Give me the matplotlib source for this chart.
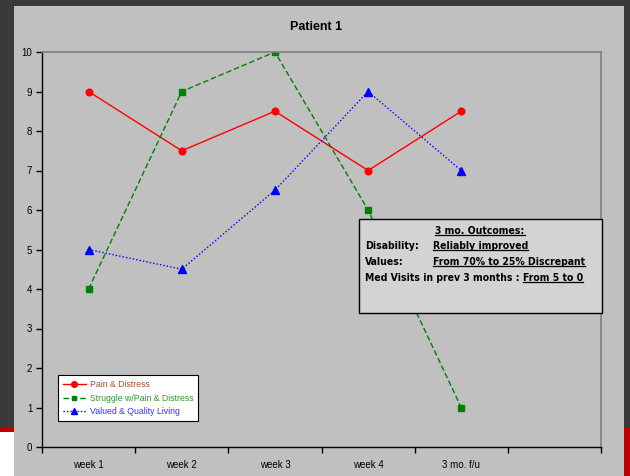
import matplotlib
matplotlib.use("Agg")
import matplotlib.pyplot as plt
from matplotlib.patches import Rectangle
from matplotlib.lines import Line2D

# chart data
categories = ["week 1", "week 2", "week 3", "week 4", "3 mo. f/u"]
pain = [9, 7.5, 8.5, 7, 8.5]
struggle = [4, 9, 10, 6, 1]
valued = [5, 4.5, 6.5, 9, 7]
series_names = ["Pain & Distress", "Struggle w/Pain & Distress", "Valued & Quality Living"]

W, H = 630, 476
plt.rcParams['font.family'] = ['Liberation Sans', 'DejaVu Sans']

fig = plt.figure(figsize=(W / 100, H / 100), dpi=100, facecolor="white")

def px_rect(x0, y0, x1, y1, color, z=-10, **kw):
    # rectangle given in pixel coords measured from the top-left corner
    r = Rectangle((x0 / W, 1 - y1 / H), (x1 - x0) / W, (y1 - y0) / H,
                  transform=fig.transFigure, facecolor=color, zorder=z, **kw)
    fig.patches.append(r)
    return r

# frame around the chart
px_rect(0, 0, W, 428, "#3a3a3a")
px_rect(0, 428, 14, 432, "#c00000")
px_rect(624, 428, W, H, "#c00000")
px_rect(14, 6, 624, H, "#c0c0c0", z=-9)

ax = fig.add_axes([42 / W, 1 - 447 / H, (601 - 42) / W, (447 - 52) / H])
ax.set_facecolor("#c0c0c0")

xs = [i + 0.5 for i in range(len(categories))]
ax.plot(xs, pain, color="red", lw=1, ls="-", marker="o", ms=4.8, label=series_names[0])
ax.plot(xs, struggle, color="#008000", lw=1, ls=(0, (4, 2)), marker="s", ms=4.2, label=series_names[1])
ax.plot(xs, valued, color="blue", lw=1, ls=(0, (1, 1.5)), marker="^", ms=5.2, label=series_names[2])

ax.set_xlim(0, 6)
ax.set_ylim(0, 10)
ax.set_yticks(range(0, 11))
ax.tick_params(axis="y", direction="out", length=4, width=1, labelsize=7, pad=3, colors="black")
ax.set_xticks(range(0, 7))
ax.set_xticklabels([])
ax.set_xticks(xs, minor=True)
ax.set_xticklabels(categories, minor=True)
ax.tick_params(axis="x", which="major", direction="out", length=4, width=1)
ax.tick_params(axis="x", which="minor", length=0, labelsize=7, pad=9)

for s in ["left", "bottom"]:
    ax.spines[s].set_color("black")
    ax.spines[s].set_linewidth(1)
for s in ["top", "right"]:
    ax.spines[s].set_color("#808080")
    ax.spines[s].set_linewidth(1.2)

fig.text(316 / W, 1 - 27 / H, "Patient 1", ha="center", va="center", fontsize=9, fontweight="bold")

leg = fig.legend(loc="upper left", bbox_to_anchor=(58 / W, 1 - 375 / H), bbox_transform=fig.transFigure,
                 borderaxespad=0, fontsize=6.3, frameon=True, fancybox=False, handlelength=2.6,
                 handletextpad=0.5, borderpad=0.55, labelspacing=0.55, markerscale=0.85, framealpha=1)
leg.get_frame().set_edgecolor("black")
leg.get_frame().set_facecolor("white")
leg.get_frame().set_linewidth(0.8)
for t, c in zip(leg.get_texts(), ["#a0522d", "#2e9a2e", "#3333ff"]):
    t.set_color(c)

# outcomes box
px_rect(359, 219, 602, 313, "#d3d3d3", z=5, edgecolor="black", linewidth=1)

box_font = dict(family="DejaVu Sans", fontstretch="condensed", fontweight="bold", fontsize=7.5, zorder=6)
underlined = []

def put(x, y, s, ha="left", underline=False):
    t = fig.text(x / W, 1 - y / H, s, ha=ha, va="center", **box_font)
    if underline:
        underlined.append(t)
    return t

put(480, 231, "3 mo. Outcomes:", ha="center", underline=True)
put(365, 246, "Disability:")
put(433, 246, "Reliably improved", underline=True)
put(365, 262, "Values:")
put(433, 262, "From 70% to 25% Discrepant", underline=True)
med = put(365, 278, "Med Visits in prev 3 months : ")

fig.canvas.draw()
r = fig.canvas.get_renderer()
mb = med.get_window_extent(r)
put(mb.x1, 278, "From 5 to 0", underline=True)
fig.canvas.draw()

for t in underlined:
    bb = t.get_window_extent(r)
    yb = bb.y0 + 1
    fig.lines.append(Line2D([bb.x0 / W, bb.x1 / W], [yb / H, yb / H], transform=fig.transFigure,
                            color="black", lw=0.9, zorder=6))

fig.savefig("out.png", dpi=100, facecolor=fig.get_facecolor())
